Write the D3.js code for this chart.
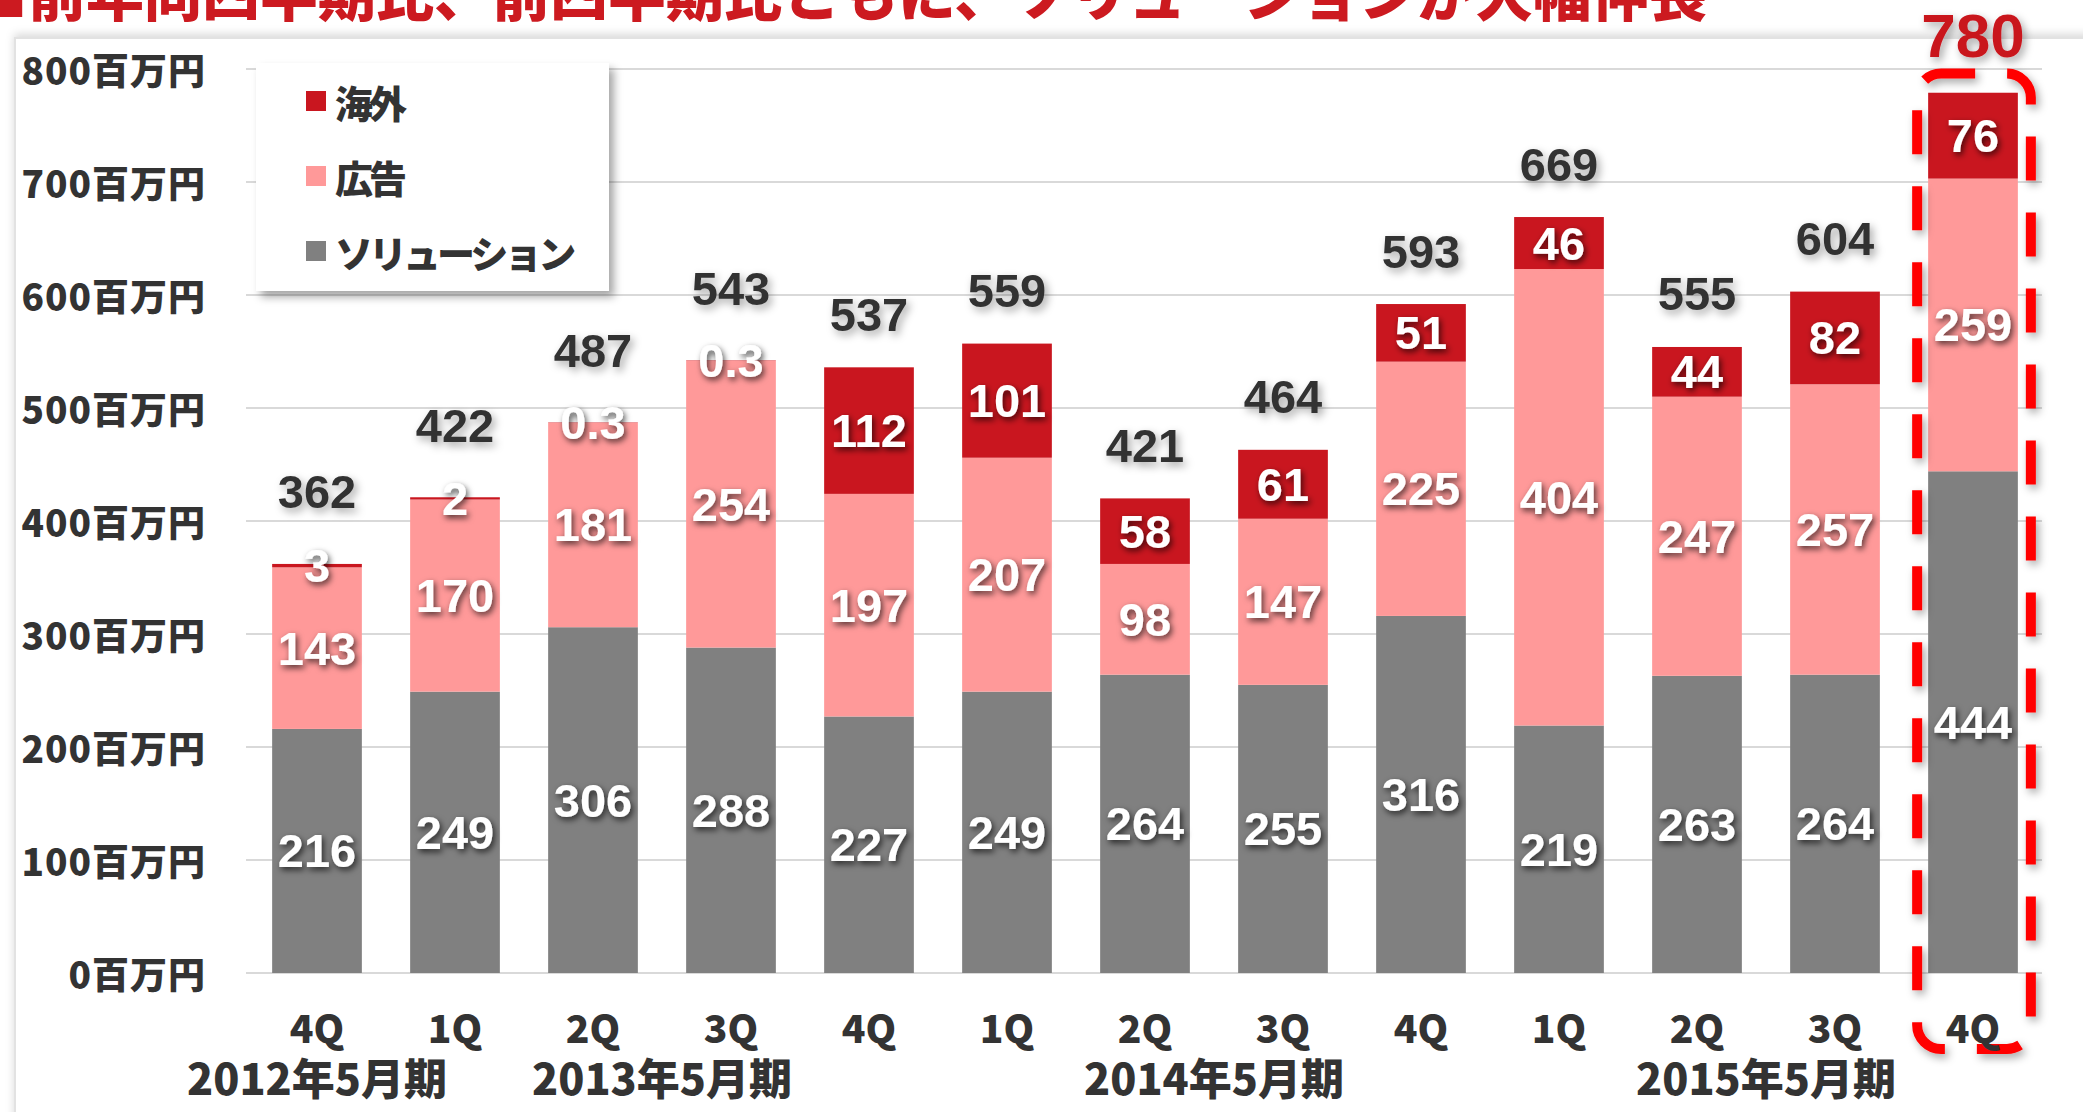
<!DOCTYPE html>
<html>
<head>
<meta charset="utf-8">
<script src="https://cdn.jsdelivr.net/npm/d3@7"></script>
<style>
  body { margin: 0; background: #fff; overflow: hidden; }
  svg { display: block; }
</style>
</head>
<body>
<script>
var width = 2083;
var height = 1112;

// data (百万円)
var quarters = ["4Q", "1Q", "2Q", "3Q", "4Q", "1Q", "2Q", "3Q", "4Q", "1Q", "2Q", "3Q", "4Q"];
var fiscalYears = ["2012年5月期", "2013年5月期", "2014年5月期", "2015年5月期"];
var yearOfQuarter = [0, 1, 1, 1, 1, 2, 2, 2, 2, 3, 3, 3, 3];
var solution = [216, 249, 306, 288, 227, 249, 264, 255, 316, 219, 263, 264, 444];
var ads = [143, 170, 181, 254, 197, 207, 98, 147, 225, 404, 247, 257, 259];
var overseas = [3, 2, 0.3, 0.3, 112, 101, 58, 61, 51, 46, 44, 82, 76];
var totals = [362, 422, 487, 543, 537, 559, 421, 464, 593, 669, 555, 604, 780];
var yTicks = [0, 100, 200, 300, 400, 500, 600, 700, 800];
var seriesKeys = ["solution", "ads", "overseas"];
var seriesNames = ["ソリューション", "広告", "海外"];
var seriesColors = ["#808080", "#ff9999", "#c9161f"];
var title = "■前年同四半期比、前四半期比ともに、ソリューションが大幅伸長";

var jp = "'Noto Sans CJK JP', 'Noto Sans', sans-serif";
var num = "'Liberation Sans', Arial, sans-serif";

var svg = d3.select("body").append("svg")
    .attr("width", width)
    .attr("height", height);

var defs = svg.append("defs");
function shadow(id, dx, dy, sd, op) {
    defs.append("filter").attr("id", id)
        .attr("x", "-30%").attr("y", "-30%").attr("width", "160%").attr("height", "160%")
        .append("feDropShadow")
        .attr("dx", dx).attr("dy", dy).attr("stdDeviation", sd)
        .attr("flood-color", "#000").attr("flood-opacity", op);
}
shadow("txtShadow", 2, 3, 3, 0.7);
shadow("totShadow", 3, 4, 4, 0.35);
shadow("boxShadow", 5, 6, 4, 0.35);
shadow("panelShadow", 0, -3, 4, 0.15);

// title (clipped at top like the slide)
svg.append("text")
    .attr("x", -30).attr("y", 16)
    .style("font-family", jp).style("font-weight", 900)
    .style("font-size", "58px").attr("fill", "#cc1a20")
    .text(title);

// chart panel
svg.append("rect")
    .attr("x", 15).attr("y", 38).attr("width", 2120).attr("height", 1120)
    .attr("fill", "#fff").attr("stroke", "#e2e2e2").attr("stroke-width", 2)
    .attr("filter", "url(#panelShadow)");

var x = d3.scaleBand()
    .domain(d3.range(quarters.length))
    .range([248, 2042])
    .paddingInner(0.35)
    .paddingOuter(0.175);

var y = d3.scaleLinear()
    .domain([0, 800])
    .range([973, 69]);

// gridlines
svg.append("g").selectAll("line")
    .data(yTicks)
    .enter().append("line")
    .attr("x1", x.range()[0] - 2).attr("x2", x.range()[1])
    .attr("y1", d => y(d)).attr("y2", d => y(d))
    .attr("stroke", "#d9d9d9").attr("stroke-width", 2);

// y axis labels
svg.append("g").selectAll("text")
    .data(yTicks)
    .enter().append("text")
    .attr("x", 206).attr("y", d => y(d))
    .attr("text-anchor", "end").attr("dominant-baseline", "central")
    .style("font-family", jp).style("font-weight", 900).style("font-size", "37px")
    .style("letter-spacing", "1px")
    .attr("fill", "#333")
    .text(d => d + "百万円");

var rows = quarters.map((q, i) => ({
    i: i, solution: solution[i], ads: ads[i], overseas: overseas[i]
}));
var stacked = d3.stack().keys(seriesKeys)(rows);

var layers = svg.append("g").selectAll("g")
    .data(stacked)
    .enter().append("g")
    .attr("fill", (d, k) => seriesColors[k]);

layers.selectAll("rect")
    .data(d => d)
    .enter().append("rect")
    .attr("x", d => x(d.data.i))
    .attr("width", x.bandwidth())
    .attr("y", d => y(d[1]))
    .attr("height", d => y(d[0]) - y(d[1]));

// segment value labels
var segLabels = svg.append("g");
stacked.forEach(function(layer) {
    segLabels.selectAll("text.k" + layer.index)
        .data(layer)
        .enter().append("text")
        .attr("class", "k" + layer.index)
        .attr("x", d => x(d.data.i) + x.bandwidth() / 2)
        .attr("y", d => y((d[0] + d[1]) / 2))
        .attr("text-anchor", "middle").attr("dominant-baseline", "central")
        .style("font-family", num).style("font-weight", 700).style("font-size", "47px")
        .attr("fill", "#fff").attr("filter", "url(#txtShadow)")
        .text(d => d.data[layer.key]);
});

// total labels
var last = totals.length - 1;
svg.append("g").selectAll("text")
    .data(totals)
    .enter().append("text")
    .attr("x", (d, i) => x(i) + x.bandwidth() / 2)
    .attr("y", (d, i) => y(solution[i] + ads[i] + overseas[i]) - (i == last ? 57 : overseas[i] < 5 ? 72 : 53))
    .attr("text-anchor", "middle").attr("dominant-baseline", "central")
    .style("font-family", num).style("font-weight", 700)
    .style("font-size", (d, i) => i == last ? "62px" : "47px")
    .attr("fill", (d, i) => i == last ? "#c9161f" : "#333")
    .attr("filter", "url(#totShadow)")
    .text(d => d);

// highlight box around latest quarter
var hx = x(last);
svg.append("rect")
    .attr("x", hx - 11).attr("y", y(totals[last]) - 18)
    .attr("width", x.bandwidth() + 24)
    .attr("height", y(0) + 76 - (y(totals[last]) - 18))
    .attr("rx", 24).attr("ry", 24)
    .attr("fill", "none").attr("stroke", "#ff0000").attr("stroke-width", 10)
    .attr("stroke-dasharray", "44 32").attr("stroke-dashoffset", 10)
    .attr("filter", "url(#totShadow)");

// x axis labels
svg.append("g").selectAll("text")
    .data(quarters)
    .enter().append("text")
    .attr("x", (d, i) => x(i) + x.bandwidth() / 2)
    .attr("y", 1026)
    .attr("text-anchor", "middle").attr("dominant-baseline", "central")
    .style("font-family", jp).style("font-weight", 900).style("font-size", "39px")
    .attr("fill", "#333")
    .text(d => d);

svg.append("g").selectAll("text")
    .data(fiscalYears)
    .enter().append("text")
    .attr("x", (d, k) => d3.mean(d3.range(quarters.length).filter(i => yearOfQuarter[i] == k), i => x(i) + x.bandwidth() / 2))
    .attr("y", 1076)
    .attr("text-anchor", "middle").attr("dominant-baseline", "central")
    .style("font-family", jp).style("font-weight", 900).style("font-size", "43px")
    .attr("fill", "#333")
    .text(d => d);

// legend
var legend = svg.append("g").attr("transform", "translate(256,63)");
legend.append("rect")
    .attr("width", 353).attr("height", 228)
    .attr("fill", "#fff").attr("filter", "url(#boxShadow)");
var items = legend.selectAll("g.item")
    .data([2, 1, 0])
    .enter().append("g")
    .attr("class", "item")
    .attr("transform", (d, j) => "translate(50," + (38 + j * 75) + ")");
items.append("rect")
    .attr("x", 0).attr("y", -10).attr("width", 20).attr("height", 20)
    .attr("fill", d => seriesColors[d]);
items.append("text")
    .attr("x", 29).attr("y", 0)
    .attr("dominant-baseline", "central")
    .style("font-family", jp).style("font-weight", 900).style("font-size", "38px")
    .style("letter-spacing", "-4px")
    .attr("fill", "#333")
    .text(d => seriesNames[d]);
</script>
</body>
</html>
